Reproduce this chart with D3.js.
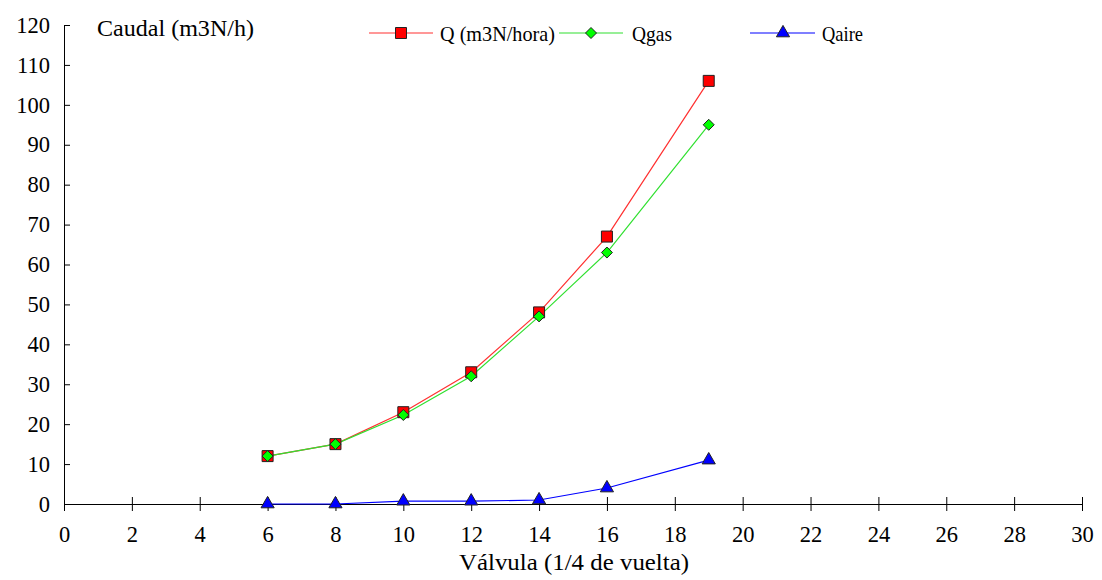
<!DOCTYPE html>
<html>
<head>
<meta charset="utf-8">
<script src="https://cdn.jsdelivr.net/npm/d3@7"></script>
<style>
  body { margin: 0; background: #fff; }
  #chart text { font-family: "Liberation Serif", "Times New Roman", serif; }
</style>
</head>
<body>
<div id="chart"></div>
<script>
// valve position (1/4 turns)
var valvula = [6, 8, 10, 12, 14, 16, 19];
// flows m3N/h
var qTotal = [12, 15, 23, 33, 48, 67, 106];
var qGas   = [12, 15, 22.3, 32, 47, 63, 95];
var qAire  = [0, 0, 0.7, 0.7, 1.0, 4, 11];

var xTicks = d3.range(0, 31, 2);
var yTicks = d3.range(0, 121, 10);

var FONT = "Liberation Serif";

var svgWidth = 1102, svgHeight = 580;
var margin = { top: 25, right: 20, bottom: 76, left: 64 };
var width = 1082 - margin.left;
var height = 504 - margin.top;

var svg = d3.select("#chart").append("svg")
  .attr("width", svgWidth)
  .attr("height", svgHeight)
  .attr("font-family", FONT)
  .append("g")
  .attr("transform", "translate(" + margin.left + "," + margin.top + ")");

var x = d3.scaleLinear().domain([0, 30]).range([0, width]);
var y = d3.scaleLinear().domain([0, 120]).range([height, 0]);

// axes, ticks cross the line
var xAxis = svg.append("g")
  .attr("transform", "translate(0," + height + ")")
  .call(d3.axisBottom(x).tickValues(xTicks).tickSize(7).tickSizeOuter(0).tickPadding(15));
xAxis.selectAll(".tick line").attr("y1", -7);

var yAxis = svg.append("g")
  .call(d3.axisLeft(y).tickValues(yTicks).tickSize(7).tickSizeOuter(0).tickPadding(7));
yAxis.selectAll(".tick line").attr("x2", 6);

svg.selectAll("g").attr("font-family", FONT);
svg.selectAll(".domain").attr("stroke", "#000");
svg.selectAll(".tick line").attr("stroke", "#000");
svg.selectAll(".tick text")
  .attr("font-size", 22.5)
  .attr("fill", "#000");

var series = [
  { name: "Q (m3N/hora)", vals: qTotal, color: "#ff0000", line: "#ff3030", shape: "square", w: 115 },
  { name: "Qgas", vals: qGas, color: "#00ff00", line: "#30e030", shape: "diamond", w: 40 },
  { name: "Qaire", vals: qAire, color: "#0000ff", line: "#0000ff", shape: "triangle", w: 41 }
];

var symbolFor = {
  square: "M-5.5,-5.5H5.5V5.5H-5.5Z",
  diamond: "M0,-5.5L5.5,0L0,5.5L-5.5,0Z",
  triangle: d3.symbol().type(d3.symbolTriangle).size(75)()
};

var line = d3.line()
  .x(function(d) { return x(d[0]); })
  .y(function(d) { return y(d[1]); });

series.forEach(function(s) {
  var pts = valvula.map(function(v, i) { return [v, s.vals[i]]; });
  svg.append("path")
    .datum(pts)
    .attr("fill", "none")
    .attr("stroke", s.line)
    .attr("stroke-width", 1.2)
    .attr("d", line);
});

series.forEach(function(s) {
  var pts = valvula.map(function(v, i) { return [v, s.vals[i]]; });
  svg.selectAll(null)
    .data(pts)
    .enter().append("path")
    .attr("d", symbolFor[s.shape])
    .attr("transform", function(d) { return "translate(" + x(d[0]) + "," + y(d[1]) + ")"; })
    .attr("fill", s.color)
    .attr("stroke", "#222")
    .attr("stroke-width", 1);
});

// legend
var legendPos = [
  { x1: 305, x2: 369, mx: 337, tx: 376 },
  { x1: 495, x2: 559, mx: 527, tx: 568 },
  { x1: 686, x2: 751, mx: 719, tx: 758 }
];
series.forEach(function(s, i) {
  var p = legendPos[i];
  var g = svg.append("g").attr("transform", "translate(0,8)");
  g.append("line").attr("x1", p.x1).attr("x2", p.x2).attr("y1", 0).attr("y2", 0)
    .attr("stroke", s.line).attr("stroke-width", 1.2);
  g.append("path").attr("d", symbolFor[s.shape])
    .attr("transform", "translate(" + p.mx + ",0)")
    .attr("fill", s.color).attr("stroke", "#222");
  g.append("text").attr("x", p.tx).attr("y", 8)
    .attr("font-size", 21)
    .attr("textLength", s.w)
    .attr("lengthAdjust", "spacingAndGlyphs")
    .text(s.name);
});

svg.append("text")
  .attr("x", 33).attr("y", 11)
  .attr("font-size", 23)
  .attr("textLength", 157)
  .attr("lengthAdjust", "spacingAndGlyphs")
  .text("Caudal (m3N/h)");

svg.append("text")
  .attr("x", width / 2 + 1).attr("y", height + 66)
  .attr("text-anchor", "middle")
  .attr("font-size", 23)
  .attr("textLength", 230)
  .attr("lengthAdjust", "spacingAndGlyphs")
  .text("Válvula (1/4 de vuelta)");
</script>
</body>
</html>
